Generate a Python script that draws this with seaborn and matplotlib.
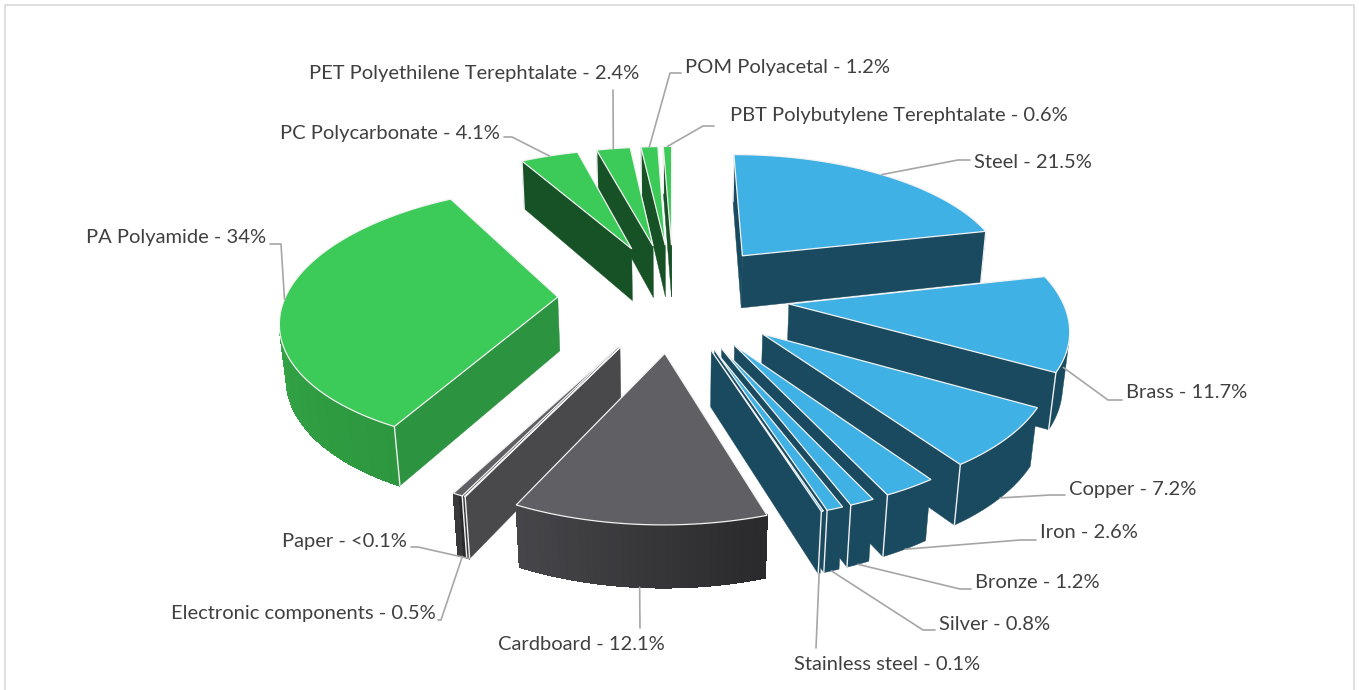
import numpy as np
import pandas as pd
import seaborn as sns
import matplotlib.pyplot as plt

# Pie data, clockwise from 12 o'clock
materials = ['Steel', 'Brass', 'Copper', 'Iron', 'Bronze', 'Silver', 'Stainless steel',
             'Cardboard', 'Paper', 'Electronic components', 'PA Polyamide',
             'PC Polycarbonate', 'PET Polyethilene Terephtalate', 'POM Polyacetal',
             'PBT Polybutylene Terephtalate']
shares = [21.5, 11.7, 7.2, 2.6, 1.2, 0.8, 0.1, 12.1, 0.05, 0.5, 34, 4.1, 2.4, 1.2, 0.6]
share_labels = ['21.5%', '11.7%', '7.2%', '2.6%', '1.2%', '0.8%', '0.1%', '12.1%', '<0.1%',
                '0.5%', '34%', '4.1%', '2.4%', '1.2%', '0.6%']
groups = ['metal'] * 7 + ['paper'] * 3 + ['polyamide'] + ['plastic'] * 4

sns.set_theme(style='white')
plt.rcParams['font.family'] = ['Lato', 'DejaVu Sans']

# top colour, flat wall colour, two ends of the outer wall gradient (clockwise)
colors = {
    'metal': ('#3FB1E4', '#1A4A5F', '#1A4A5F', '#1A4A5F'),
    'paper': ('#5F5F64', '#49494C', '#2A2A2C', '#47474B'),
    'polyamide': ('#3CCB58', '#2C9340', '#2D973F', '#3BB54F'),
    'plastic': ('#3CCB58', '#175226', '#175226', '#175226'),
}

# Camera and pie shape
cx, cy, R = 673.5, 296, 272
pitch_s, pitch_c = 0.467, 0.884
cam_dist = 6.0
explode = 0.425
height = 0.228

# name: (line start height 0=top 1=bottom, elbow x, elbow y, stub end x, text x, text y, ha)
layout = {
    'Steel': (0, 958, 160, 970, 974, 162, 'left'),
    'Brass': (0.8, 1108, 400, 1122, 1126, 393, 'left'),
    'Copper': (1, 1050, 495, 1065, 1069, 489, 'left'),
    'Iron': (1, 1020, 540, 1036, 1040, 533, 'left'),
    'Bronze': (1, 960, 589, 971, 975, 583, 'left'),
    'Silver': (1, 923, 630, 935, 939, 624, 'left'),
    'Stainless steel': (1, 816, 648, 816, 887, 664, 'center'),
    'Cardboard': (1, 640, 628, 640, 581, 644, 'center'),
    'Paper': (1, 418, 547, 411, 407, 542, 'right'),
    'Electronic components': (1, 441, 620, 438, 436, 614, 'right'),
    'PA Polyamide': (0, 281, 244, 270, 266, 238, 'right'),
    'PC Polycarbonate': (0, 512, 137, 504, 500, 133, 'right'),
    'PET Polyethilene Terephtalate': (0, 613, 90, 613, 639, 74, 'right'),
    'POM Polyacetal': (0, 670, 73, 681, 685, 67, 'left'),
    'PBT Polybutylene Terephtalate': (0, 703, 126, 714, 730, 116, 'left'),
}


def project(x, y, z=0.0):
    # y points to the viewer, z up, perspective camera tilted down
    w = y * pitch_c + z * pitch_s
    s = cam_dist / (cam_dist - w)
    return cx + R * x * s, cy + R * (y * pitch_s - z * pitch_c) * s


def rim(t, ox, oy):
    return ox + np.sin(t), oy - np.cos(t)


camera = np.array([0, pitch_c * cam_dist])

df = pd.DataFrame({'material': materials, 'share': shares, 'label': share_labels, 'group': groups})
df['end'] = df['share'].cumsum() / df['share'].sum() * 2 * np.pi
df['start'] = df['end'] - df['share'] / df['share'].sum() * 2 * np.pi
df['mid'] = (df['start'] + df['end']) / 2
df['ox'] = explode * np.sin(df['mid'])
df['oy'] = -explode * np.cos(df['mid'])

fig = plt.figure(figsize=(13.59, 6.9), dpi=100)
ax = fig.add_axes([0, 0, 1, 1])
ax.set_xlim(0, 1359)
ax.set_ylim(690, 0)
ax.axis('off')

# Outer chart frame
ax.plot([5, 5, 1354, 1354], [690, 5, 5, 690], color='#D9D9D9', lw=1.2)

# Back wedges first
for _, row in df.sort_values('oy').iterrows():
    top_c, wall_c, grad_a, grad_b = colors[row['group']]
    ox, oy = row['ox'], row['oy']
    ts = np.linspace(row['start'], row['end'], max(3, int(row['share'] * 3)))

    # Curved wall, only the part facing the camera
    shades = sns.blend_palette([grad_a, grad_b], len(ts))
    visible = [t for t in ts
               if np.array([np.sin(t), -np.cos(t)]) @ (camera - np.array(rim(t, ox, oy))) > 0]
    if len(visible) > 1:
        upper = [project(*rim(t, ox, oy)) for t in visible]
        lower = [project(*rim(t, ox, oy), -height) for t in visible]
        base = shades[len(ts) // 2]
        ax.fill(*zip(*(upper + lower[::-1])), facecolor=base, edgecolor=base, lw=0.3, zorder=2)
        if grad_a != grad_b:
            # thin strips so the gradient shows, no antialiasing so no seams
            first = list(ts).index(visible[0])
            for i in range(len(visible) - 1):
                pts = [upper[i], upper[i + 1], lower[i + 1], lower[i]]
                ax.fill(*zip(*pts), facecolor=shades[first + i], edgecolor=shades[first + i],
                        lw=0.5, antialiased=False, zorder=2)

    # Straight walls facing the camera
    for t, sign in ((row['start'], -1), (row['end'], 1)):
        normal = sign * np.array([np.cos(t), np.sin(t)])
        if normal @ (camera - np.array([ox, oy])) > 0:
            rx, ry = rim(t, ox, oy)
            pts = [project(ox, oy), project(rx, ry), project(rx, ry, -height), project(ox, oy, -height)]
            ax.fill(*zip(*pts), facecolor=wall_c, edgecolor=wall_c, lw=0.3, zorder=2)
            # bright line down the outer corner
            corner = [project(rx, ry), project(rx, ry, -height)]
            ax.plot(*zip(*corner), color='#F0F0F0', lw=1.0, zorder=2)

    # Top face
    rim_x, rim_y = rim(ts, ox, oy)
    top = [project(ox, oy)] + [project(a, b) for a, b in zip(rim_x, rim_y)]
    ax.fill(*zip(*top), facecolor=top_c, edgecolor='#F2F2F2', lw=0.9, zorder=3)

# Labels and leader lines
for _, row in df.iterrows():
    drop, ex, ey, sx, tx, ty, ha = layout[row['material']]
    ax_, ay_ = rim(row['mid'], row['ox'], row['oy'])
    ax0, ay0 = project(ax_, ay_, -height * drop)
    ax.plot([ax0, ex, sx], [ay0, ey, ey], color='#A6A6A6', lw=1.2, zorder=4)
    ax.text(tx, ty, f"{row['material']} - {row['label']}", ha=ha, va='center',
            fontsize=14.5, color='#404040', zorder=5)

fig.savefig('out.png', dpi=100)
